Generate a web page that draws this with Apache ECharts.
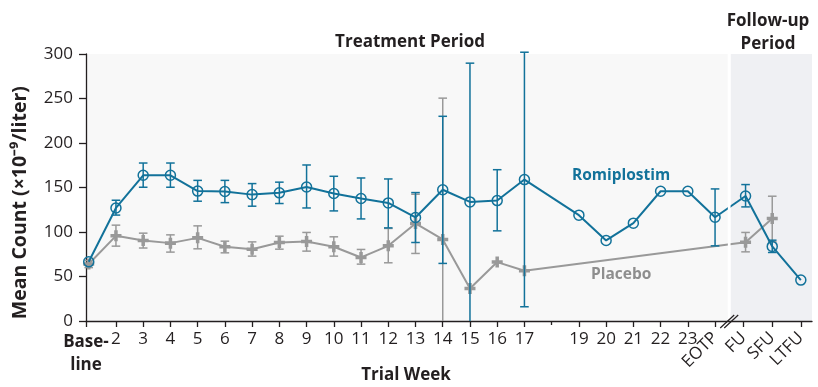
<!DOCTYPE html>
<html><head><meta charset="utf-8">
<script src="https://cdn.jsdelivr.net/npm/echarts@6/dist/echarts.min.js"></script>
<style>html,body{margin:0;padding:0;background:#fff}#c{width:818px;height:387px}</style>
</head><body><div id="c"></div>
<script>
// ---- axis categories / tick labels ----
const tickPos    = [0.9, 2, 3, 4, 5, 6, 7, 8, 9, 10, 11, 12, 13, 14, 15, 16, 17, 19, 20, 21, 22, 23, 24, 25.05, 26.1, 27.15];
const tickLabels = ['Base-\nline', '2', '3', '4', '5', '6', '7', '8', '9', '10', '11', '12', '13', '14', '15', '16', '17', '19', '20', '21', '22', '23', 'EOTP', 'FU', 'SFU', 'LTFU'];
const rotatedLabels = ['EOTP', 'FU', 'SFU', 'LTFU'];
const minorTickPos = [18];
const yTicks = [0, 50, 100, 150, 200, 250, 300];

// ---- Romiplostim ----
const romiX    = [1, 2, 3, 4, 5, 6, 7, 8, 9, 10, 11, 12, 13, 14, 15, 16, 17, 19, 20, 21, 22, 23, 24, 25.12, 26.1, 27.15];
const romiMean = [66.5, 127, 163.7, 163.7, 146, 145.5, 142, 144, 150.6, 143.2, 137.6, 132.7, 116.3, 147.5, 133.8, 135.3, 158.9, 118.9, 90.5, 109.9, 145.8, 145.8, 116.6, 140.5, 83.8, 46];
const romiLow  = [null, 119, 150.3, 150.3, 134.6, 133, 129, 132, 127, 123.7, 114.7, 104.6, 88.2, 64.7, -22, 101.3, 16, null, null, null, null, null, 84.4, 128.2, 77, null];
const romiHigh = [null, 135.7, 177.5, 177.5, 158, 158, 154.4, 156, 175.3, 162.6, 160.7, 159.6, 144.3, 230, 289.7, 170, 302, null, null, null, null, null, 148.4, 153.3, 90.8, null];

// ---- Placebo ----
const placX    = [1, 2, 3, 4, 5, 6, 7, 8, 9, 10, 11, 12, 13, 14, 15, 16, 17, 25.12, 26.1];
const placMean = [64, 95.7, 90.5, 87.5, 93.4, 83.4, 80.7, 88.2, 89.4, 83.4, 71.4, 84.5, 109.6, 91.6, 36.6, 66.2, 56.4, 88.6, 115.2];
const placLow  = [60, 84.1, 82, 77.4, 81.1, 76.6, 72.9, 80.7, 78.5, 72.9, 63.9, 65.4, 75.9, -67, null, null, null, 77.7, 89];
const placHigh = [68, 107.7, 98.7, 96.8, 106.9, 89.7, 88.9, 95.3, 99.5, 94.6, 80.4, 104, 142.4, 250.4, null, null, null, 99.5, 140.2];

const TEAL = '#12729a';
const GRAY = '#999999';
const INK = '#231f20';
const FONT = '"Open Sans", sans-serif';
const NUMFONT = '"Liberation Sans Narrow", "Open Sans", sans-serif';

function labelFor(v) {
  const i = tickPos.findIndex(p => Math.abs(p - v) < 1e-6);
  return i < 0 ? '' : tickLabels[i];
}

function errData(xs, lo, hi) {
  const out = [];
  xs.forEach((x, i) => { if (lo[i] != null) out.push([x, lo[i], hi[i]]); });
  return out;
}

function errRender(color) {
  return function (params, api) {
    const x = api.value(0), lo = api.value(1), hi = api.value(2);
    const loC = Math.max(lo, 0);
    const pHi = api.coord([x, hi]);
    const pLo = api.coord([x, loC]);
    const w = 4.3;
    const st = { stroke: color, lineWidth: 1.5 };
    const children = [
      { type: 'line', shape: { x1: pHi[0], y1: pHi[1], x2: pLo[0], y2: pLo[1] }, style: st },
      { type: 'line', shape: { x1: pHi[0] - w, y1: pHi[1], x2: pHi[0] + w, y2: pHi[1] }, style: st }
    ];
    if (lo >= 0) children.push({ type: 'line', shape: { x1: pLo[0] - w, y1: pLo[1], x2: pLo[0] + w, y2: pLo[1] }, style: st });
    return { type: 'group', children };
  };
}

const plusPath = 'path://M-1.6,-5 L1.6,-5 L1.6,-1.6 L5,-1.6 L5,1.6 L1.6,1.6 L1.6,5 L-1.6,5 L-1.6,1.6 L-5,1.6 L-5,-1.6 L-1.6,-1.6 Z';

const XMIN = 0.9, XMAX = 27.56;
const axisCommon = { type: 'value', min: XMIN, max: XMAX, position: 'bottom', splitLine: { show: false } };

const chart = echarts.init(document.getElementById('c'), null, { renderer: 'canvas' });
const option = {
  animation: false,
  backgroundColor: '#ffffff',
  grid: { left: 86, right: 6, top: 54, bottom: 66, containLabel: false },
  title: [
    { text: 'Treatment Period', left: 405, top: 29, textAlign: 'center',
      textStyle: { fontFamily: FONT, fontSize: 17, fontWeight: 'bold', color: INK } },
    { text: 'Follow-up\nPeriod', left: 763, top: 5, textAlign: 'center',
      textStyle: { fontFamily: FONT, fontSize: 17, fontWeight: 'bold', color: INK, lineHeight: 23 } },
    { text: 'Trial Week', left: 401, top: 362, textAlign: 'center',
      textStyle: { fontFamily: FONT, fontSize: 17, fontWeight: 'bold', color: INK } }
  ],
  xAxis: [
    Object.assign({}, axisCommon, {
      axisLine: { show: true, lineStyle: { color: INK, width: 1.3 } },
      axisTick: { show: true, customValues: tickPos, length: 6, lineStyle: { color: INK, width: 1.3 } },
      axisLabel: {
        customValues: tickPos.filter((p, i) => rotatedLabels.indexOf(tickLabels[i]) < 0),
        formatter: v => { const t = labelFor(v); return t === 'Base-\nline' ? '{b|Base-}\n{b|line}' : t; },
        fontFamily: NUMFONT, fontSize: 17, color: INK, margin: 10,
        rich: { b: { fontFamily: NUMFONT, fontSize: 17, fontWeight: 'bold', color: INK, lineHeight: 23 } }
      }
    }),
    Object.assign({}, axisCommon, {
      axisLine: { show: false }, axisTick: { show: false },
      axisLabel: {
        customValues: tickPos.filter((p, i) => rotatedLabels.indexOf(tickLabels[i]) >= 0),
        formatter: v => labelFor(v), rotate: 45,
        fontFamily: NUMFONT, fontSize: 17, color: INK, margin: 14
      }
    }),
    Object.assign({}, axisCommon, {
      axisLine: { show: false },
      axisTick: { show: true, customValues: minorTickPos, length: 4, lineStyle: { color: INK, width: 1.3 } },
      axisLabel: { show: false }
    })
  ],
  yAxis: {
    type: 'value', min: 0, max: 300, interval: 50,
    axisLine: { show: true, lineStyle: { color: INK, width: 1.3 } },
    axisTick: { show: true, length: 7, lineStyle: { color: INK, width: 1.3 } },
    axisLabel: { fontFamily: NUMFONT, fontSize: 17, color: INK, margin: 13,
      formatter: v => (yTicks.indexOf(v) >= 0 ? String(v) : '') },
    splitLine: { show: false }
  },
  series: [
    { // background shading
      type: 'line', data: [], silent: true, z: 0,
      markArea: { silent: true, z: 0, data: [
        [{ xAxis: XMIN, itemStyle: { color: '#f8f8f8' } }, { xAxis: 24.47 }],
        [{ xAxis: 24.57, itemStyle: { color: '#eff0f3' } }, { xAxis: XMAX }]
      ] }
    },
    { type: 'custom', name: 'placErr', renderItem: errRender(GRAY), data: errData(placX, placLow, placHigh),
      encode: { x: 0, y: [1, 2] }, z: 3, silent: true },
    { type: 'line', name: 'Placebo', data: placX.map((x, i) => [x, placMean[i]]),
      symbol: plusPath, symbolSize: 11, showAllSymbol: true,
      lineStyle: { color: GRAY, width: 2 }, itemStyle: { color: GRAY },
      emphasis: { disabled: true }, z: 4, silent: true },
    { type: 'custom', name: 'romiErr', renderItem: errRender(TEAL), data: errData(romiX, romiLow, romiHigh),
      encode: { x: 0, y: [1, 2] }, z: 5, silent: true },
    { type: 'line', name: 'Romiplostim', data: romiX.map((x, i) => [x, romiMean[i]]),
      symbol: 'circle', symbolSize: 10, showAllSymbol: true,
      lineStyle: { color: TEAL, width: 2 },
      itemStyle: { color: 'rgba(255,255,255,0)', borderColor: TEAL, borderWidth: 1.5 },
      emphasis: { disabled: true }, z: 6, silent: true },
    { // white gap between periods
      type: 'line', data: [], silent: true, z: 10,
      markArea: { silent: true, z: 10, data: [
        [{ coord: [24.47, 10], itemStyle: { color: '#ffffff' } }, { coord: [24.57, 300] }]
      ] }
    }
  ]
};
chart.setOption(option);

// annotations positioned through the chart's own scales
const romiLabelAt = [20.55, 163.5];
const placLabelAt = [20.55, 52.5];
const pR = chart.convertToPixel({ gridIndex: 0 }, romiLabelAt);
const pP = chart.convertToPixel({ gridIndex: 0 }, placLabelAt);
const pB = chart.convertToPixel({ gridIndex: 0 }, [24.52, 0]);
const pY = chart.convertToPixel({ gridIndex: 0 }, [XMIN, 133]);
chart.setOption({
  graphic: [
    { type: 'text', x: pR[0], y: pR[1], z: 20, style: { text: 'Romiplostim', fill: TEAL, font: 'bold 15.5px ' + FONT, textAlign: 'center', textVerticalAlign: 'middle' } },
    { type: 'text', x: pP[0], y: pP[1], z: 20, style: { text: 'Placebo', fill: '#8e8e8e', font: 'bold 15.5px ' + FONT, textAlign: 'center', textVerticalAlign: 'middle' } },
    { type: 'text', x: 20, y: pY[1], rotation: Math.PI / 2, z: 20,
      style: { text: 'Mean Count (×10⁻⁹/liter)', fill: INK, font: 'bold 19.5px ' + FONT, textAlign: 'center', textVerticalAlign: 'middle' } },
    { type: 'group', z: 20, children: [
      { type: 'line', shape: { x1: pB[0] - 9, y1: pB[1] + 7, x2: pB[0] + 5, y2: pB[1] - 6 }, style: { stroke: INK, lineWidth: 1.2 } },
      { type: 'line', shape: { x1: pB[0] - 5, y1: pB[1] + 7, x2: pB[0] + 9, y2: pB[1] - 6 }, style: { stroke: INK, lineWidth: 1.2 } }
    ] }
  ]
});
</script>
</body></html>
